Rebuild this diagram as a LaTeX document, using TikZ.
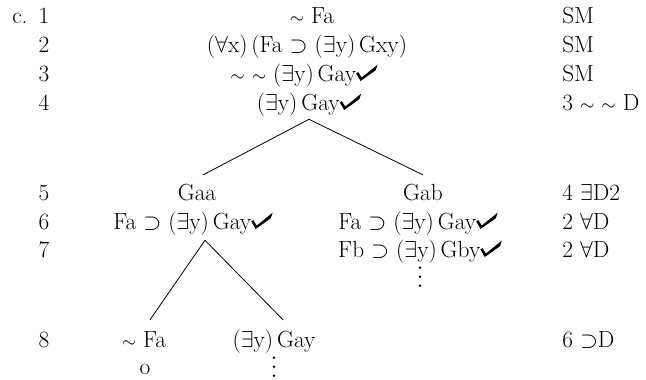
\documentclass[tikz,border=0pt]{standalone}
\usepackage{graphicx}
\newcommand{\chk}{\tikz[baseline=0pt, x=1em, y=1em]
    \fill (0,0.33) -- (0.09,0.38) -- (0.24,0.15) -- (0.92,0.7) -- (0.84,0.46) -- (0.19,0) -- cycle;}
\newcommand{\exq}{\ensuremath{\exists}}
\newcommand{\allq}{\ensuremath{\forall}}
\newcommand{\negs}{\scalebox{0.8}{\ensuremath{\sim}}}
\newcommand{\cond}{\ensuremath{\supset}}
\begin{document}
\begin{tikzpicture}[x=0.75pt, y=-0.75pt,
    every node/.style={font=\fontsize{17.5}{20}\selectfont, inner sep=0pt},
    fml/.style={anchor=base},
    just/.style={anchor=base west},
    branch/.style={line width=0.6pt}]
    \useasboundingbox (0,0) rectangle (646,379);

    % line numbers
    \node[just] (c) at (12,23) {c.};
    \foreach \n/\y in {1/23,2/52,3/81,4/110,5/200,6/229,7/257,8/347}
        \node[fml] (n\n) at (44,\y) {\n};

    % trunk
    \node[fml] (r1) at (312,23) {\negs\ Fa};
    \node[fml] (r2) at (307,52) {(\allq x)\,(Fa \cond\ (\exq y)\,Gxy)};
    \node[fml] (r3) at (304,81) {\negs\ \negs\ (\exq y)\,Gay\chk};
    \node[fml] (r4) at (309,110) {(\exq y)\,Gay\chk};

    % left branch
    \node[fml] (l5) at (197,200) {Gaa};
    \node[fml] (l6) at (193,229) {Fa \cond\ (\exq y)\,Gay\chk};
    \node[fml] (l8a) at (144,347) {\negs\ Fa};
    \node[fml] (l8b) at (274,347) {(\exq y)\,Gay};
    \node[fml] (cl) at (145,374) {o};

    % right branch
    \node[fml] (r5) at (423,200) {Gab};
    \node[fml] (r6) at (418,229) {Fa \cond\ (\exq y)\,Gay\chk};
    \node[fml] (r7) at (420,257) {Fb \cond\ (\exq y)\,Gby\chk};

    % justifications
    \node[just] (j1) at (562,23) {SM};
    \node[just] (j2) at (562,52) {SM};
    \node[just] (j3) at (562,81) {SM};
    \node[just] (j4) at (562,110) {3 \negs\ \negs\ D};
    \node[just] (j5) at (562,200) {4 \exq D2};
    \node[just] (j6) at (562,229) {2 \allq D};
    \node[just] (j7) at (562,257) {2 \allq D};
    \node[just] (j8) at (562,347) {6 \cond D};

    % branches
    \draw[branch] ([yshift=-2.4pt]r4.south) -- ([xshift=4.5pt,yshift=6.4pt]l5.north);
    \draw[branch] ([yshift=-2.4pt]r4.south) -- ([yshift=6.4pt]r5.north);
    \draw[branch] ([xshift=9pt,yshift=-3.9pt]l6.south) -- ([xshift=4.5pt,yshift=8.3pt]l8a.north);
    \draw[branch] ([xshift=9pt,yshift=-3.9pt]l6.south) -- ([xshift=6.75pt,yshift=7.1pt]l8b.north);

    % open branches
    \foreach \k in {0,1,2} {
        \fill ([yshift={-8pt-\k*6.75pt}]r7.base) circle (1pt);
        \fill ([yshift={-8pt-\k*6.75pt}]l8b.base) circle (1pt);
    }
\end{tikzpicture}
\end{document}
